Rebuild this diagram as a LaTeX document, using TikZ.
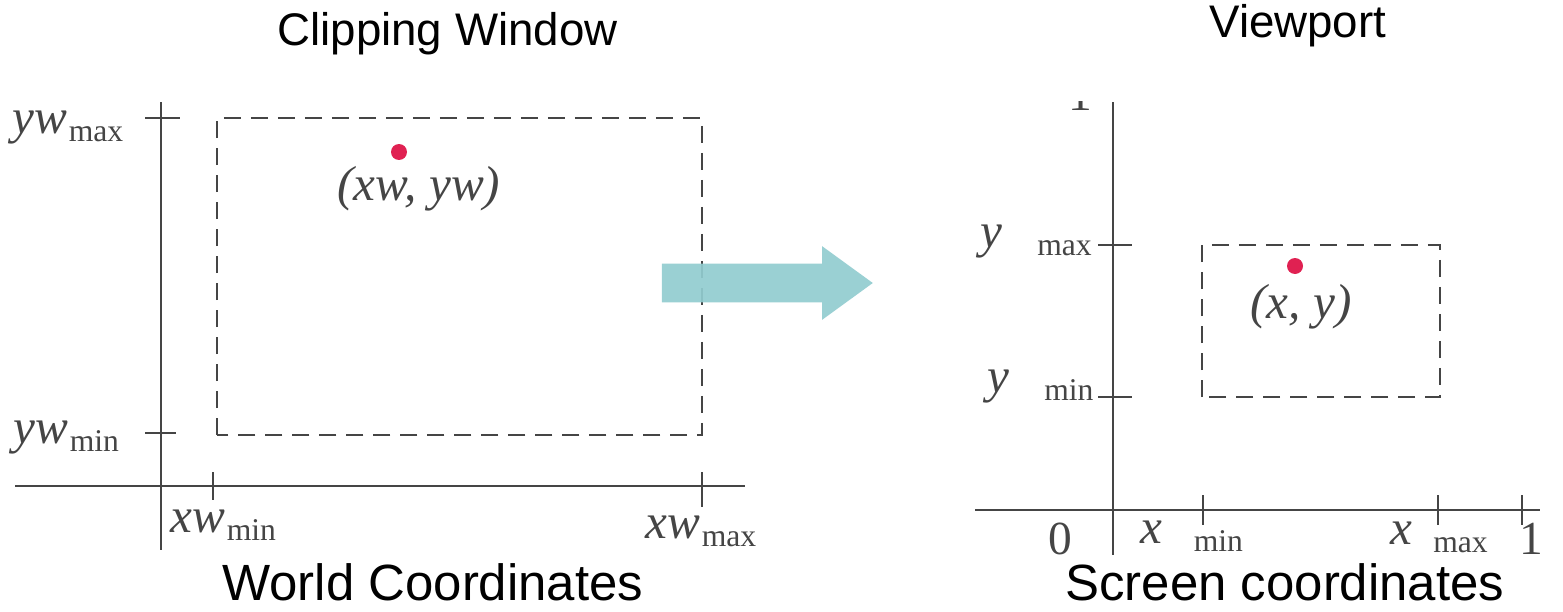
\documentclass[tikz,border=0pt]{standalone}
\usepackage{fontspec}
\setmainfont{Liberation Sans}
\newfontfamily\bookfont{Liberation Serif}
\usepackage{tikz}
\usetikzlibrary{shapes.arrows,positioning}
\definecolor{axgray}{rgb}{0.27,0.27,0.27}
\definecolor{dotred}{rgb}{0.88,0.13,0.32}
\definecolor{mapteal}{rgb}{0.57,0.80,0.81}
\newcommand{\lowsub}[2][0pt]{\hspace{#1}\raisebox{-5pt}{\fontsize{18}{20}\selectfont\upshape #2}}

\begin{document}
\begin{tikzpicture}[
  x=0.02cm, y=-0.02cm,
  axis/.style={axgray, line width=1.6pt},
  tick/.style={axgray, line width=1.4pt},
  clipbox/.style={draw=axgray, line width=1.5pt, dash pattern=on 0.34cm off 0.2cm},
  title/.style={inner sep=0pt, anchor=base west, font=\fontsize{26}{30}\selectfont},
  caption/.style={inner sep=0pt, anchor=base west, font=\fontsize{29}{33}\selectfont},
  mlab/.style={inner sep=0pt, anchor=base west, text=axgray,
               font=\bookfont\itshape\fontsize{28}{32}\selectfont},
  num/.style={inner sep=0pt, anchor=base west, text=axgray,
              font=\bookfont\fontsize{27}{30}\selectfont},
  pt/.style={circle, fill=dotred, inner sep=0pt, minimum size=0.32cm},
  maparrow/.style={single arrow, fill=mapteal, fill opacity=0.92, draw=none,
                   minimum height=4.22cm, inner xsep=0pt, inner ysep=0.38cm,
                   single arrow head extend=0.35cm, single arrow tip angle=72}
]
\useasboundingbox (0,0) rectangle (1563,612);

% --- world coordinates (left) ---
\coordinate (wtop) at (161,102);
\coordinate (wbot) at (161,550);
\coordinate (wleft) at (15,486);
\coordinate (wright) at (745,486);
\draw[axis] (wtop) -- (wbot);
\draw[axis] (wleft) -- (wright);
\draw[tick] (145,118) -- (180,118);
\draw[tick] (145,433) -- (176,433);
\draw[tick] (213,472) -- (213,500);
\draw[tick] (702,472) -- (702,507);
\coordinate (wll) at (217,435);
\coordinate (wur) at (702,118);
\draw[clipbox] (wll) rectangle (wur);

\node[pt] (wpt) at (399,152) {};
\node[mlab] (wptlbl) at (337,200) {(xw, yw)};
\node[mlab] (ywmax) at (12,133) {yw\lowsub[1pt]{max}};
\node[mlab] (ywmin) at (13,443) {yw\lowsub[1pt]{min}};
\node[mlab] (xwmin) at (170,532) {xw\lowsub[1pt]{min}};
\node[mlab] (xwmax) at (645,538) {xw\lowsub[1pt]{max}};

\node[title] (cwin) at (277,45) {Clipping Window};
\node[caption] (wcap) at (222,600) {World Coordinates};

% --- mapping arrow ---
\node[maparrow] (map) at (754,283) {};

% --- screen coordinates (right) ---
\coordinate (stop) at (1113,102);
\coordinate (sbot) at (1113,555);
\coordinate (sleft) at (975,510);
\coordinate (sright) at (1540,510);
\draw[axis] (stop) -- (sbot);
\draw[axis] (sleft) -- (sright);
\draw[tick] (1098,245) -- (1132,245);
\draw[tick] (1098,397) -- (1132,397);
\draw[tick] (1203,495) -- (1203,525);
\draw[tick] (1438,495) -- (1438,525);
\draw[tick] (1522,495) -- (1522,525);
\coordinate (vll) at (1202,397);
\coordinate (vur) at (1440,245);
\draw[clipbox] (vll) rectangle (vur);

\node[pt] (vpt) at (1295,266) {};
\node[mlab] (vptlbl) at (1250,318) {(x, y)};
\node[mlab] (ymax) at (980,247) {y\lowsub[20pt]{max}};
\node[mlab] (ymin) at (987,392) {y\lowsub[20pt]{min}};
\node[mlab] (xmin) at (1140,543) {x\lowsub[18pt]{min}};
\node[mlab] (xmax) at (1390,544) {x\lowsub[12pt]{max}};
\node[num] (zero) at (1048,554) {0};
\node[num] (one) at (1519,554) {1};
\begin{scope}
  \clip (1040,101) rectangle (1100,130);
  \node[num] (onetop) at (1068,110) {1};
\end{scope}

\node[title] (vport) at (1209,37) {Viewport};
\node[caption] (scap) at (1065,600) {Screen coordinates};
\end{tikzpicture}
\end{document}
